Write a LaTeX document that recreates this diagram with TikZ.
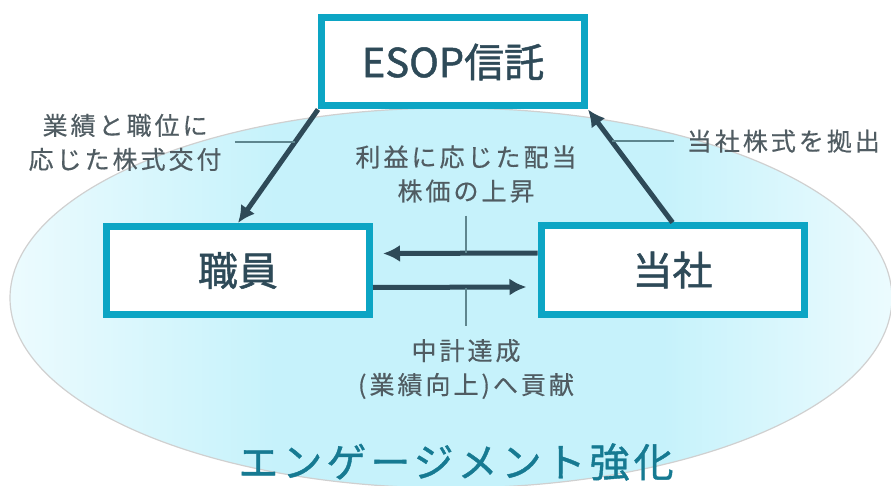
\documentclass[tikz,border=0pt]{standalone}
\usepackage{fontspec}
\newfontfamily\jpfont[FakeBold=1.2]{Noto Sans CJK JP}
\newfontfamily\jplabelfont[LetterSpace=12,FakeBold=0.4]{Noto Sans CJK JP}
\newfontfamily\jpbigfont[LetterSpace=10,FakeBold=1]{Noto Sans CJK JP}
\usetikzlibrary{positioning,arrows.meta}

\definecolor{boxcyan}{RGB}{12,165,196}
\definecolor{arrowslate}{RGB}{46,74,88}
\definecolor{labelgray}{RGB}{80,92,98}
\definecolor{leadergray}{RGB}{94,134,142}
\definecolor{engageteal}{RGB}{22,122,146}
\definecolor{ovalcyan}{RGB}{198,242,251}
\definecolor{ovalpale}{RGB}{236,251,254}
\definecolor{ovaledge}{RGB}{208,208,208}

\pgfdeclarehorizontalshading{ovalshade}{100bp}{color(0bp)=(white); color(25bp)=(ovalpale); color(40bp)=(ovalcyan); color(62bp)=(ovalcyan); color(75bp)=(ovalpale); color(100bp)=(white)}

\tikzset{
  box/.style={draw=boxcyan, line width=7pt, fill=white, minimum width=263pt, minimum height=88pt,
    text=arrowslate, font=\jpfont\fontsize{40}{40}\selectfont},
  flow/.style={->, draw=arrowslate, line width=5pt},
  lbl/.style={text=labelgray, align=center, inner xsep=13pt, inner ysep=13pt,
    font=\jplabelfont\fontsize{25}{34}\selectfont},
  leader/.style={draw=leadergray, line width=2pt}
}

\begin{document}
\begin{tikzpicture}[x=1pt,y=-1pt,>={Latex[length=17pt,width=17pt]}]
      \useasboundingbox (0,0) rectangle (891,486);
      % pale oval behind everything
      \shade[shading=ovalshade, draw=ovaledge, line width=1.2pt] (451,298) ellipse [x radius=441pt, y radius=190pt];
      % the three parties
      \node[box] (esop) at (453,62) {ESOP信託};
      \node[box] (shokuin) at (238,270.5) {職員};
      \node[box] (tosha) at (672.5,270) {当社};
      % shares handed to staff, shares put into the trust
      \draw[flow] (esop.south west) -- coordinate[pos=0.29] (lk) (shokuin.north);
      \draw[flow] (tosha.north) -- coordinate[pos=0.72] (rk) (esop.south east);
      % exchange between staff and company
      \draw[flow] ([yshift=17pt]tosha.west) coordinate (ua) -- ([yshift=17pt,xshift=10pt]shokuin.east);
      \draw[flow] ([yshift=-17pt]shokuin.east) coordinate (la) -- ([yshift=-17pt,xshift=-11pt]tosha.west);
      % labels and their leaders
      \node[lbl, left=60pt of lk] (grantlab) {業績と職位に\\応じた株式交付};
      \draw[leader] (grantlab.east) -- (lk);
      \node[lbl, right=62pt of rk] (stocklab) {当社株式を拠出};
      \draw[leader] (stocklab.west) -- (rk);
      \node[lbl] (gainlab) at (466,174) {利益に応じた配当\\株価の上昇};
      \draw[leader] (gainlab.south) -- (gainlab.south |- ua);
      \node[lbl] (contriblab) at (466,369) {中計達成\\(業績向上)へ貢献};
      \draw[leader] (contriblab.north) -- (contriblab.north |- la);
      % bottom caption
      \node[text=engageteal, font=\jpbigfont\fontsize{40}{40}\selectfont] (engage) at (456,462) {エンゲージメント強化};
\end{tikzpicture}
\end{document}
